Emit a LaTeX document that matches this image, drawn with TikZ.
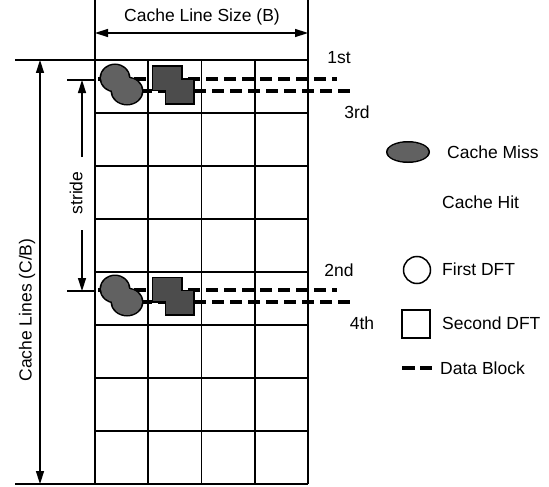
\documentclass[tikz,border=0pt]{standalone}
\usepackage{fontspec}
\setmainfont{Liberation Sans}
\usetikzlibrary{arrows.meta}
\begin{document}
\begin{tikzpicture}[x=1pt,y=-1pt,
  lbl/.style={font=\fontsize{17.5}{20}\selectfont, inner sep=0pt},
  gridline/.style={line width=1.9pt},
  dimline/.style={line width=1.5pt},
  tip/.style={-{Triangle[length=13pt,width=8pt]}},
  dim/.style={dimline, {Triangle[length=13pt,width=8pt]}-{Triangle[length=13pt,width=8pt]}},
  datablock/.style={line width=3.2pt, dash pattern=on 12pt off 6pt},
  missfill/.style={fill=black!62},
  outline/.style={fill=black},
]
\useasboundingbox (0,0) rectangle (549,487);

% grid
\foreach \i in {1,2,3} \draw[gridline] (95+53.25*\i,60) -- (95+53.25*\i,484);
\draw[gridline] (95,0) -- (95,484);
\draw[gridline] (308,0) -- (308,484);
\foreach \j in {0,...,8} \draw[gridline] (95,60+53*\j) -- (308,60+53*\j);

% top dimension
\coordinate (tl) at (95,33);
\coordinate (tr) at (308,33);
\draw[dim] (tl) -- (tr);
\node[lbl] (title) at (202,17) {Cache Line Size (B)};

% left dimension
\draw[dimline] (15,60) -- (95,60);
\draw[dimline] (15,484) -- (95,484);
\coordinate (lt) at (40,60);
\coordinate (lb) at (40,484);
\draw[dim] (lt) -- (lb);
\node[lbl, rotate=90] (cl) at (27,310) {Cache Lines (C/B)};

% stride
\draw[dimline] (67,80) -- (95,80);
\draw[dimline] (67,291) -- (95,291);
\coordinate (st) at (82,80);
\coordinate (sb) at (82,291);
\coordinate (sgt) at (82,157);
\coordinate (sgb) at (82,230);
\draw[dimline, tip] (sgt) -- (st);
\draw[dimline, tip] (sgb) -- (sb);
\node[lbl, rotate=90] (stride) at (76,193) {stride};

% data blocks and markers
\foreach \o in {0,211} {
  \draw[datablock] (98,79+\o) -- (337,79+\o);
  \draw[datablock] (140,91+\o) -- (350,91+\o);
  \fill[outline] (115,78+\o) ellipse [x radius=15.5, y radius=14.5];
  \fill[outline] (127,91+\o) ellipse [x radius=16.5, y radius=14.5];
  \fill[missfill] (115,78+\o) ellipse [x radius=14, y radius=13];
  \fill[missfill] (127,91+\o) ellipse [x radius=15, y radius=13];
  \fill[outline] (151.5,65.5+\o) rectangle (182.5,91.5+\o);
  \fill[outline] (164.5,78.5+\o) rectangle (194.5,104.5+\o);
  \fill[black!70] (153,67+\o) rectangle (181,90+\o);
  \fill[black!70] (166,80+\o) rectangle (193,103+\o);
}

% access labels
\node[lbl] (first) at (339,58) {1st};
\node[lbl] (third) at (357,112) {3rd};
\node[lbl] (second) at (339,270) {2nd};
\node[lbl] (fourth) at (362,323) {4th};

% legend
\fill[outline] (408,152) ellipse [x radius=22, y radius=11];
\fill[missfill] (408,152) ellipse [x radius=20.5, y radius=9.5];
\node[lbl, anchor=west] (miss) at (447,152) {Cache Miss};
\node[lbl, anchor=west] (hit) at (442,202) {Cache Hit};
\node[draw, circle, line width=1.5pt, minimum size=27pt, inner sep=0pt] (symc) at (417,270) {};
\node[lbl, anchor=west] (fdft) at (442,269) {First DFT};
\node[draw, rectangle, line width=1.5pt, minimum width=28pt, minimum height=28pt, inner sep=0pt] (syms) at (416,324) {};
\node[lbl, anchor=west] (sdft) at (442,323) {Second DFT};
\coordinate (dbl) at (402,368);
\coordinate (dbr) at (432,368);
\draw[datablock, dash pattern=on 13pt off 5pt] (dbl) -- (dbr);
\node[lbl, anchor=west] (db) at (440,368) {Data Block};
\end{tikzpicture}
\end{document}
